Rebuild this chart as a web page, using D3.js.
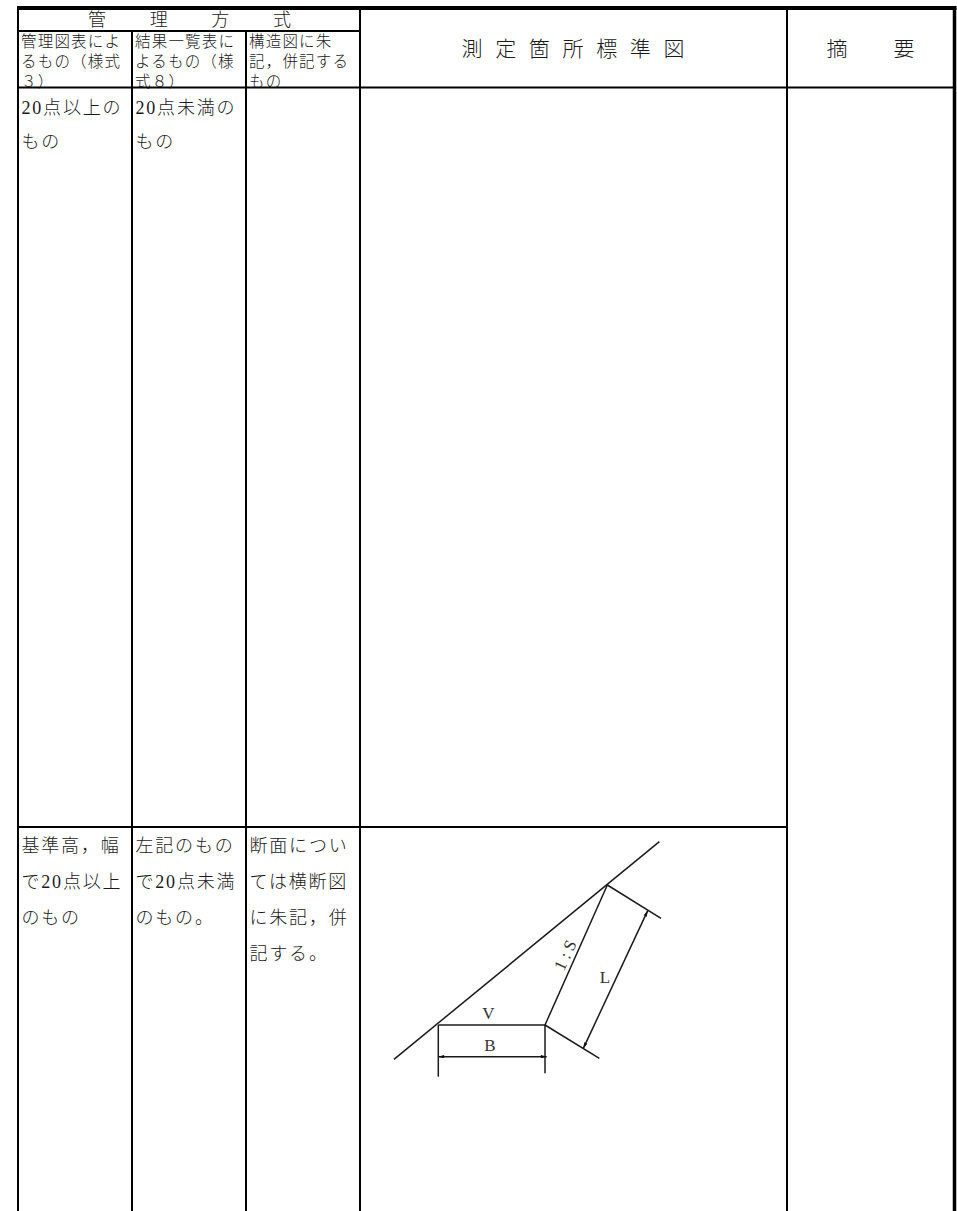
<!DOCTYPE html>
<html>
<head>
<meta charset="utf-8">
<title>測定箇所標準図</title>
<script src="https://cdn.jsdelivr.net/npm/d3@7/dist/d3.min.js"></script>
<style>
  html, body { margin: 0; padding: 0; background: #fff; }
  svg { display: block; }
  text { font-family: "Liberation Serif", "Noto Sans CJK JP", serif; font-weight: 300; fill: #1a1a1a; }
</style>
</head>
<body>
<div id="chart"></div>
<script>
// table contents
var columns = ["manage1", "manage2", "manage3", "figure", "note"];
var rows = ["top", "head1", "head2", "body1", "end"];

var manageTitle = ["管", "理", "方", "式"];
var figureTitle = ["測", "定", "箇", "所", "標", "準", "図"];
var noteTitle = ["摘", "要"];

var subHeads = [
  ["管理図表によ", "るもの（様式", "３）"],
  ["結果一覧表に", "よるもの（様", "式８）"],
  ["構造図に朱", "記，併記する", "もの"]
];
var firstBody = [
  ["20点以上の", "もの"],
  ["20点未満の", "もの"],
  []
];
var secondBody = [
  ["基準高，幅", "で20点以上", "のもの"],
  ["左記のもの", "で20点未満", "のもの。"],
  ["断面につい", "ては横断図", "に朱記，併", "記する。"]
];

// cross-section drawing, in drawing units with the left bench corner as origin
var groundLine = [[-133, -103], [663, 550]];
var benchLine = [[0, 0], [320, 0]];
var slopeLine = [[320, 0], [507, 420]];
var upperTick = [[507, 420], [668, 320]];
var lowerTick = [[320, 0], [483, -100]];
var leftDrop = [[0, 0], [0, -155]];
var rightDrop = [[320, 0], [320, -145]];
var widthDim = [[0, -95], [325, -95]];
var lengthDim = [[628, 343], [435, -70]];
var drawingLines = [groundLine, benchLine, slopeLine, upperTick, lowerTick, leftDrop, rightDrop];
var dimLines = [widthDim, lengthDim];
var drawingLabels = [
  {text: "V", x: 150, y: 35, angle: 0},
  {text: "B", x: 155, y: -60, angle: 0},
  {text: "L", x: 500, y: 145, angle: 0},
  {text: "1 : S", x: 380, y: 210, angle: -65}
];

var svgWidth = 957;
var svgHeight = 1211;

var svg = d3.select("#chart")
  .append("svg")
  .attr("width", svgWidth)
  .attr("height", svgHeight);

// the table grid goes through these two scales
var colLeft = d3.scaleOrdinal().domain(columns.concat("right")).range([18, 132, 246, 360, 787, 954.5]);
var rowTop = d3.scaleOrdinal().domain(rows).range([8, 31, 87.5, 827, 1211]);

var xDraw = d3.scaleLinear().domain([0, 320]).range([438.3, 545]);
var yDraw = d3.scaleLinear().domain([0, 420]).range([1025, 885]);

var drawLine = d3.line()
  .x(d => xDraw(d[0]))
  .y(d => yDraw(d[1]));

var defs = svg.append("defs");
defs.append("marker")
  .attr("id", "arrow")
  .attr("viewBox", "0 0 10 6")
  .attr("refX", 10)
  .attr("refY", 3)
  .attr("markerWidth", 9)
  .attr("markerHeight", 3.5)
  .attr("markerUnits", "userSpaceOnUse")
  .attr("orient", "auto-start-reverse")
  .append("path")
  .attr("d", "M0,0L10,3L0,6Z")
  .attr("fill", "#111");

// Text first, the rules sit on top of it
var textGroup = svg.append("g");

function addBlock(lines, x, firstBase, pitch, size, spacing) {
  textGroup.selectAll(null)
    .data(lines)
    .enter()
    .append("text")
    .attr("x", x)
    .attr("y", (d, i) => firstBase + i * pitch)
    .attr("font-size", size)
    .attr("letter-spacing", spacing)
    .text(d => d);
}

// spaced out titles, one glyph at a time along a point scale
function addTitle(chars, x1, x2, base, size) {
  var pos = d3.scalePoint().domain(chars).range([x1, x2]);
  textGroup.selectAll(null)
    .data(chars)
    .enter()
    .append("text")
    .attr("x", d => pos(d))
    .attr("y", base)
    .attr("text-anchor", "middle")
    .attr("font-size", size)
    .text(d => d);
}

var manageCols = columns.slice(0, 3);
manageCols.forEach(function(col, i) {
  addBlock(subHeads[i], colLeft(col) + 3, 46.5, 20, 15.5, 1.2);
  addBlock(firstBody[i], colLeft(col) + 3.5, 114, 34, 18, 1.8);
  addBlock(secondBody[i], colLeft(col) + 3.5, 852, 36, 18, 1.8);
});

addTitle(manageTitle, 97, 282, 26, 18);
addTitle(figureTitle, 472, 674, 56, 21);
addTitle(noteTitle, 837, 904, 56, 21);

// Grid rules
var hRules = [
  {y: rowTop("top"), x1: colLeft("manage1") - 1, x2: colLeft("right") + 2, w: 4},
  {y: rowTop("head1"), x1: colLeft("manage1"), x2: colLeft("figure"), w: 2},
  {y: rowTop("head2"), x1: colLeft("manage1"), x2: colLeft("right"), w: 1.8},
  {y: rowTop("body1"), x1: colLeft("manage1"), x2: colLeft("note"), w: 2}
];
var vRules = [
  {x: colLeft("manage1"), y1: rowTop("top"), w: 2},
  {x: colLeft("manage2"), y1: rowTop("head1"), w: 2},
  {x: colLeft("manage3"), y1: rowTop("head1"), w: 2},
  {x: colLeft("figure"), y1: rowTop("top"), w: 2},
  {x: colLeft("note"), y1: rowTop("top"), w: 2},
  {x: colLeft("right"), y1: rowTop("top"), w: 3.5}
];

svg.append("g").selectAll("line")
  .data(hRules)
  .enter()
  .append("line")
  .attr("x1", d => d.x1)
  .attr("x2", d => d.x2)
  .attr("y1", d => d.y)
  .attr("y2", d => d.y)
  .attr("stroke", "#000")
  .attr("stroke-width", d => d.w);

svg.append("g").selectAll("line")
  .data(vRules)
  .enter()
  .append("line")
  .attr("x1", d => d.x)
  .attr("x2", d => d.x)
  .attr("y1", d => d.y1)
  .attr("y2", rowTop("end"))
  .attr("stroke", "#000")
  .attr("stroke-width", d => d.w);

// Cross-section drawing
var drawingGroup = svg.append("g");

drawingGroup.selectAll(".part")
  .data(drawingLines)
  .enter()
  .append("path")
  .attr("class", "part")
  .attr("d", drawLine)
  .attr("fill", "none")
  .attr("stroke", "#1a1a1a")
  .attr("stroke-width", 1.5);

drawingGroup.selectAll(".dim")
  .data(dimLines)
  .enter()
  .append("path")
  .attr("class", "dim")
  .attr("d", drawLine)
  .attr("fill", "none")
  .attr("stroke", "#1a1a1a")
  .attr("stroke-width", 1.5)
  .attr("marker-start", "url(#arrow)")
  .attr("marker-end", "url(#arrow)");

drawingGroup.selectAll("text")
  .data(drawingLabels)
  .enter()
  .append("text")
  .attr("transform", d => `translate(${xDraw(d.x)}, ${yDraw(d.y)}) rotate(${d.angle})`)
  .attr("text-anchor", "middle")
  .attr("dy", "0.35em")
  .attr("font-size", 17)
  .style("fill", "#333")
  .text(d => d.text);
</script>
</body>
</html>
